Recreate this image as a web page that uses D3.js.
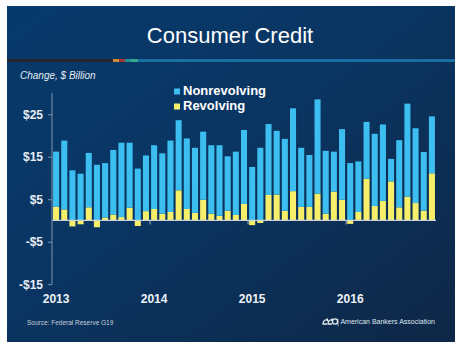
<!DOCTYPE html>
<html>
<head>
<meta charset="utf-8">
<script src="https://cdn.jsdelivr.net/npm/d3@7"></script>
<style>
  html, body { margin: 0; padding: 0; background: #fff; }
  svg { display: block; font-family: "Liberation Sans", Arial, sans-serif; }
</style>
</head>
<body>
<svg id="chart"></svg>
<script>
// monthly change, Jan 2013 .. Nov 2016
const months = d3.range(47).map(i => new Date(2013, i, 1));
const nonrevolving = [
    13.0, 16.2, 11.8, 11.0, 12.8, 13.1, 12.8, 15.2, 17.5, 15.3, 12.2, 13.1,
    15.0, 14.2, 16.8, 16.5, 16.6, 15.3, 16.0, 16.1, 16.6, 12.8, 14.9, 17.4,
    12.6, 17.1, 16.7, 15.0, 16.9, 19.5, 13.9, 12.2, 22.2, 14.8, 9.4, 16.6,
    13.5, 11.9, 13.4, 17.0, 18.0, 5.3, 15.8, 21.9, 17.6, 13.8, 13.4
];
const revolving = [
    3.2, 2.6, -1.4, -0.9, 3.1, -1.6, 0.7, 1.4, 0.8, 3.0, -1.3, 2.2,
    2.7, 1.6, 2.0, 7.1, 2.7, 1.8, 4.9, 1.6, 1.1, 2.3, 1.3, 3.9,
    -1.1, -0.6, 6.0, 6.1, 2.3, 6.9, 3.2, 3.2, 6.3, 1.6, 6.8, 4.9,
    -0.8, 2.0, 9.8, 3.4, 4.6, 9.2, 3.1, 5.6, 4.1, 2.3, 11.1
];
const yTicks = [25, 15, 5, -5, -15];
const years = [2013, 2014, 2015, 2016];
const seriesNames = ["Revolving", "Nonrevolving"];
const seriesColors = { Revolving: "#f7ef6a", Nonrevolving: "#3cbff0" };

const W = 468, H = 347;
const svg = d3.select("#chart").attr("width", W).attr("height", H);

// panel background
const defs = svg.append("defs");
const grad = defs.append("linearGradient").attr("id", "bg")
    .attr("x1", "0%").attr("y1", "0%").attr("x2", "100%").attr("y2", "100%");
grad.append("stop").attr("offset", "0%").attr("stop-color", "#073a6c");
grad.append("stop").attr("offset", "45%").attr("stop-color", "#0a3562");
grad.append("stop").attr("offset", "100%").attr("stop-color", "#0e2746");
svg.append("rect").attr("x", 7).attr("y", 6).attr("width", 448).attr("height", 336)
    .attr("fill", "url(#bg)");

svg.append("text").attr("x", 230).attr("y", 43).attr("text-anchor", "middle")
    .attr("fill", "#ffffff").attr("font-size", 22).text("Consumer Credit");

// coloured rule under the title
const rule = [
    [7, 113, "#23262b"], [113, 119, "#c98a3a"], [119, 125, "#a8362e"],
    [125, 131, "#1f8f98"], [131, 138, "#3aa58e"], [138, 455, "#176fa3"]
];
svg.selectAll("rect.rule").data(rule).enter().append("rect").attr("class", "rule")
    .attr("x", d => d[0]).attr("y", 59).attr("width", d => d[1] - d[0]).attr("height", 3)
    .attr("fill", d => d[2]);

svg.append("text").attr("x", 20).attr("y", 79).attr("fill", "#e6ecf2")
    .attr("font-size", 10).attr("font-style", "italic").text("Change, $ Billion");

// scales
const x = d3.scaleBand().domain(months).range([52, 436]).paddingInner(0.26).paddingOuter(0.13);
const y = d3.scaleLinear().domain([-15, 30]).range([284.2, 93]);

const rows = months.map((m, i) => ({ month: m, Nonrevolving: nonrevolving[i], Revolving: revolving[i] }));
const stacked = d3.stack().keys(seriesNames).offset(d3.stackOffsetDiverging)(rows);

const bars = svg.append("g");
stacked.forEach(s => {
    bars.selectAll(null).data(s).enter().append("rect")
        .attr("x", d => x(d.data.month))
        .attr("width", x.bandwidth())
        .attr("y", d => y(Math.max(d[0], d[1])))
        .attr("height", d => Math.abs(y(d[0]) - y(d[1])))
        .attr("fill", seriesColors[s.key]);
});

// zero line and year ticks
svg.append("line").attr("x1", 52).attr("x2", 436).attr("y1", y(0)).attr("y2", y(0))
    .attr("stroke", "#c9d2dc").attr("stroke-width", 1.2);
years.slice(1).forEach(yr => {
    const bx = x(new Date(yr, 0, 1)) - x.step() * x.paddingInner() / 2;
    svg.append("line").attr("x1", bx).attr("x2", bx).attr("y1", y(0)).attr("y2", y(0) + 4)
        .attr("stroke", "#a9b6c4").attr("stroke-width", 1);
});

// y axis
const yAxis = svg.append("g").attr("transform", "translate(52,0)")
    .call(d3.axisLeft(y).tickValues(yTicks).tickSize(4).tickPadding(5)
        .tickFormat(v => (v < 0 ? "-$" : "$") + Math.abs(v)));
yAxis.select(".domain").attr("stroke", "#8194aa").attr("d", `M-0,${y(30)}V${y(-15)}`);
yAxis.selectAll(".tick line").attr("stroke", "#8194aa");
yAxis.selectAll(".tick text").attr("fill", "#e8edf3").attr("font-size", 12)
    .attr("font-weight", "bold").attr("font-family", "Liberation Sans, Arial, sans-serif");

// year labels
svg.selectAll("text.year").data(years).enter().append("text").attr("class", "year")
    .attr("x", d => x(new Date(d, 0, 1)) + x.bandwidth() / 2)
    .attr("y", 303).attr("text-anchor", "middle")
    .attr("fill", "#eef2f6").attr("font-size", 12).attr("font-weight", "bold")
    .text(d => d);

// legend
const legend = svg.append("g");
["Nonrevolving", "Revolving"].forEach((k, i) => {
    const ly = 95 + i * 15;
    legend.append("rect").attr("x", 174).attr("y", ly - 6.5).attr("width", 6).attr("height", 6)
        .attr("fill", seriesColors[k]);
    legend.append("text").attr("x", 183).attr("y", ly).attr("fill", "#ffffff")
        .attr("font-size", 13).attr("font-weight", "bold").text(k);
});

// footer
svg.append("text").attr("x", 27).attr("y", 325).attr("fill", "#c5cfda")
    .attr("font-size", 6.5).text("Source: Federal Reserve G19");

const logo = svg.append("g").attr("transform", "translate(322,318)")
    .attr("fill", "none").attr("stroke", "#e8edf3").attr("stroke-width", 1.3);
logo.append("path").attr("d", "M1,6 C1,2 4,1 6,3 L5,0.5 M0.5,6 L5,6");
logo.append("path").attr("d", "M6,6 C6,2 9,1 11,3 L10,0.5 M5.5,6 L10,6");
logo.append("circle").attr("cx", 13).attr("cy", 3.5).attr("r", 2.6);
svg.append("text").attr("x", 337).attr("y", 324).attr("fill", "#dfe6ee")
    .attr("font-size", 7).text("| American Bankers Association");
</script>
</body>
</html>
